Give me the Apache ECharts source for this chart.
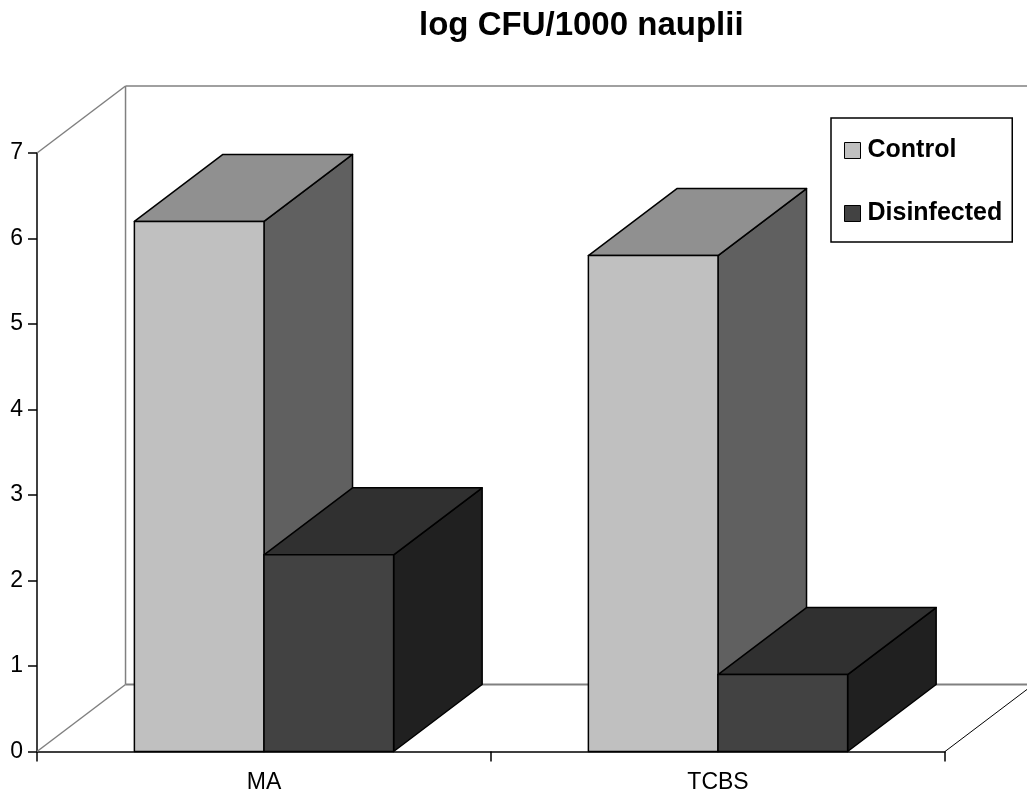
<!DOCTYPE html>
<html><head><meta charset="utf-8">
<script src="https://cdn.jsdelivr.net/npm/echarts@6/dist/echarts.min.js"></script>
<style>html,body{margin:0;padding:0;background:#fff}#chart{width:1027px;height:796px}</style>
</head><body><div id="chart"></div>
<script>
const categories = ['MA', 'TCBS'];
const controlValues = [6.2, 5.8];
const disinfectedValues = [2.3, 0.9];
const seriesNames = ['Control', 'Disinfected'];
const titleText = 'log CFU/1000 nauplii';

const FONT = '"Liberation Sans", Arial, Helvetica, sans-serif';
const DEPTH_X_FRAC = 0.195;
const DEPTH_Y = -67;
const BAR_FRAC = 0.2855;

const controlColors = {front: '#c0c0c0', top: '#909090', side: '#606060'};
const disColors = {front: '#424242', top: '#303030', side: '#202020'};

function barRenderer(side, colors) {
  return function (params, api) {
    const cat = api.value(0), val = api.value(1);
    const top = api.coord([cat, val]);
    const base = api.coord([cat, 0]);
    const band = api.size([1, 0])[0];
    const w = band * BAR_FRAC;
    const dx = band * DEPTH_X_FRAC, dy = DEPTH_Y;
    const x0 = side === 0 ? top[0] - w : top[0];
    const x1 = x0 + w;
    const yT = top[1], yB = base[1];
    const st = (fill) => ({fill: fill, stroke: '#000', lineWidth: 1.5, lineJoin: 'round'});
    return {type: 'group', children: [
      {type: 'polygon', shape: {points: [[x1, yB], [x1 + dx, yB + dy], [x1 + dx, yT + dy], [x1, yT]]}, style: st(colors.side)},
      {type: 'polygon', shape: {points: [[x0, yT], [x1, yT], [x1 + dx, yT + dy], [x0 + dx, yT + dy]]}, style: st(colors.top)},
      {type: 'rect', shape: {x: x0, y: yT, width: w, height: yB - yT}, style: st(colors.front)}
    ]};
  };
}

function wallRenderer(params, api) {
  const cs = params.coordSys;
  const x0 = cs.x, x1 = cs.x + cs.width, yT = cs.y, yB = cs.y + cs.height;
  const band = api.size([1, 0])[0];
  const dx = band * DEPTH_X_FRAC, dy = DEPTH_Y;
  const gray = {stroke: '#808080', lineWidth: 1.5};
  const line = (a, b, style) => ({type: 'line', shape: {x1: a[0], y1: a[1], x2: b[0], y2: b[1]}, style: style});
  return {type: 'group', children: [
    line([x0, yT], [x0 + dx, yT + dy], gray),
    line([x0 + dx, yT + dy], [x0 + dx, yB + dy], gray),
    line([x0 + dx, yT + dy], [x1 + dx, yT + dy], gray),
    line([x0, yB], [x0 + dx, yB + dy], gray),
    line([x0 + dx, yB + dy], [x1 + dx, yB + dy], {stroke: '#808080', lineWidth: 2}),
    line([x1, yB], [x1 + dx, yB + dy], {stroke: '#000', lineWidth: 1})
  ]};
}

const chart = echarts.init(document.getElementById('chart'), null, {renderer: 'canvas'});
chart.setOption({
  animation: false,
  backgroundColor: '#fff',
  title: {
    text: titleText, left: 419, top: 9, padding: 0,
    textStyle: {fontFamily: FONT, fontSize: 33, fontWeight: 'bold', color: '#000'}
  },
  legend: {
    data: seriesNames, orient: 'vertical', left: 831, top: 118,
    padding: [20, 10, 16, 13], itemGap: 38, itemWidth: 16, itemHeight: 16,
    borderColor: '#000', borderWidth: 1.5, backgroundColor: '#fff',
    icon: 'rect', selectedMode: false,
    itemStyle: {borderColor: '#000', borderWidth: 1},
    textStyle: {fontFamily: FONT, fontSize: 25, fontWeight: 'bold', color: '#000', padding: [0, 0, 0, 2]}
  },
  grid: {left: 37, right: 82, top: 153, bottom: 44.5, containLabel: false},
  xAxis: {
    type: 'category', data: categories,
    axisLine: {lineStyle: {color: '#000', width: 1.5}},
    axisTick: {show: true, length: 10, lineStyle: {color: '#000', width: 1.5}},
    axisLabel: {margin: 20, fontFamily: FONT, fontSize: 23, color: '#000'},
    splitLine: {show: false}
  },
  yAxis: {
    type: 'value', min: 0, max: 7, interval: 1,
    axisLine: {show: true, lineStyle: {color: '#000', width: 1.5}},
    axisTick: {show: true, length: 9, lineStyle: {color: '#000', width: 1.5}},
    axisLabel: {margin: 14, fontFamily: FONT, fontSize: 23, color: '#000'},
    splitLine: {show: false}
  },
  series: [
    {type: 'custom', name: 'walls', clip: false, z: 1, silent: true, data: [[0, 0]], renderItem: wallRenderer},
    {type: 'custom', name: seriesNames[0], clip: false, z: 2,
     itemStyle: {color: controlColors.front, borderColor: '#000', borderWidth: 1},
     data: categories.map((c, i) => [i, controlValues[i]]), renderItem: barRenderer(0, controlColors)},
    {type: 'custom', name: seriesNames[1], clip: false, z: 3,
     itemStyle: {color: disColors.front, borderColor: '#000', borderWidth: 1},
     data: categories.map((c, i) => [i, disinfectedValues[i]]), renderItem: barRenderer(1, disColors)}
  ]
});
</script></body></html>
